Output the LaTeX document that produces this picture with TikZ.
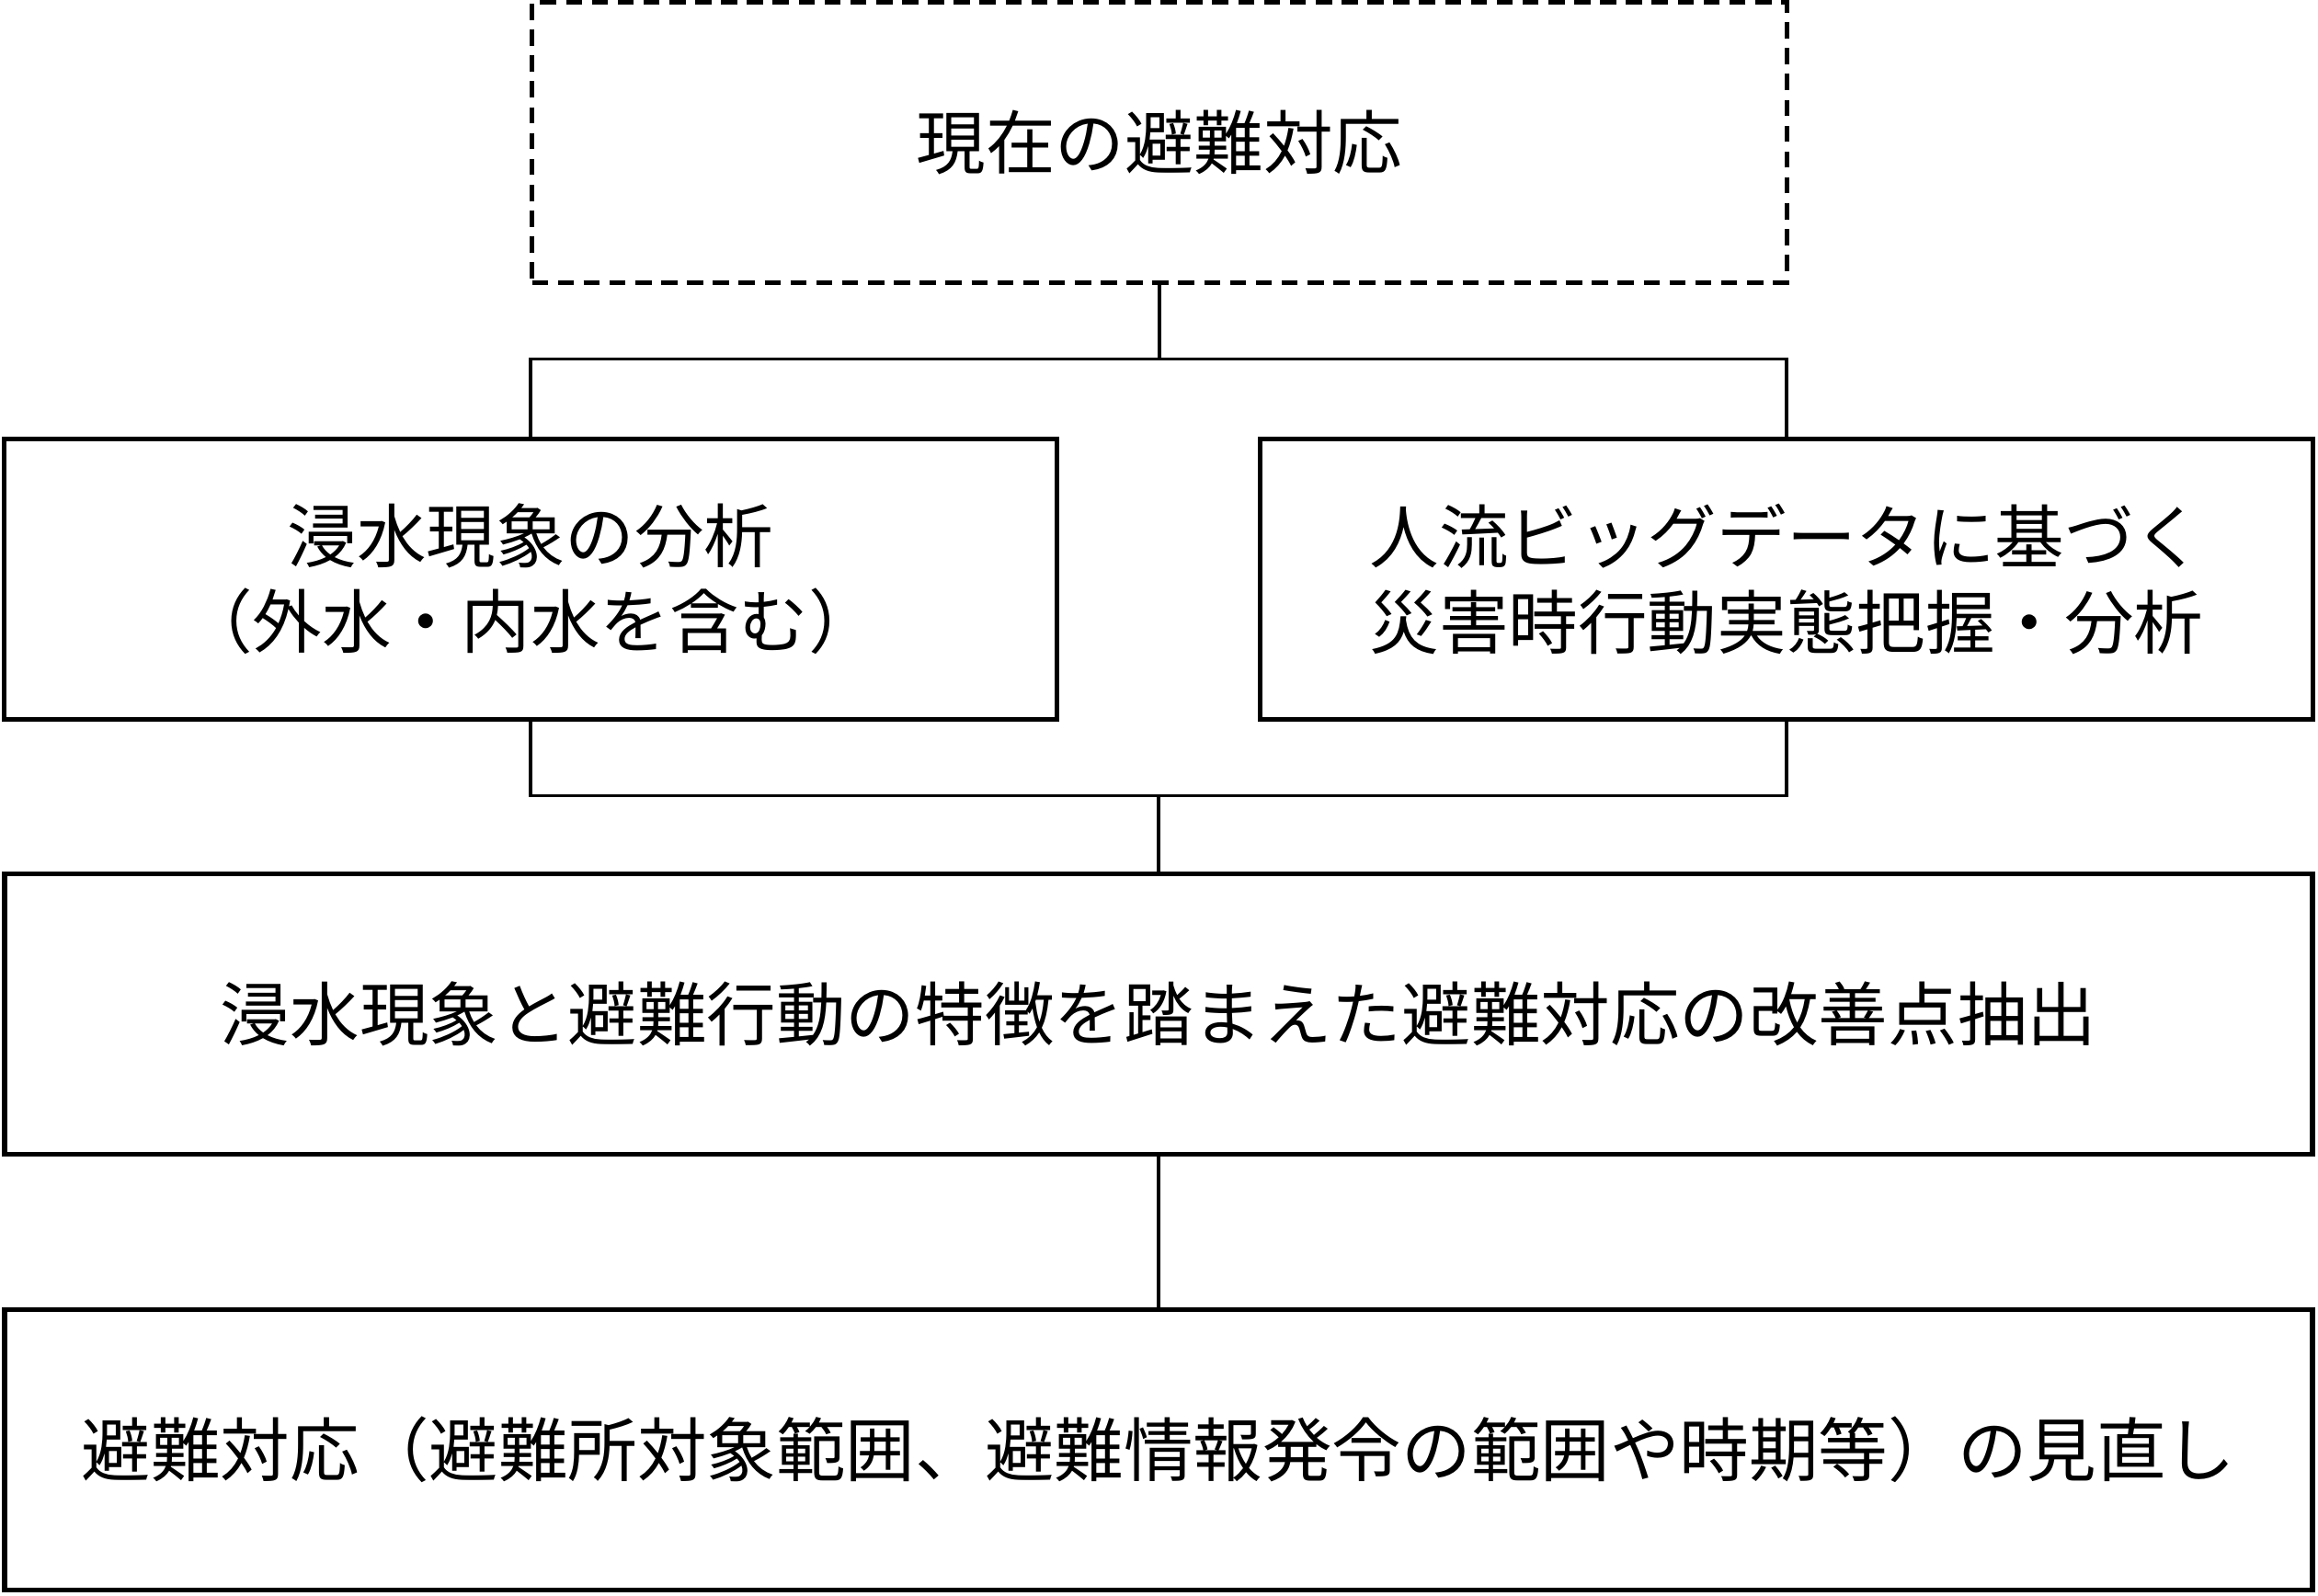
\documentclass[tikz,border=0pt]{standalone}
\usepackage{fontspec}
\setmainfont{Noto Sans CJK JP}
\usetikzlibrary{positioning}

\begin{document}
\begin{tikzpicture}[
  every node/.style={draw, align=center, line width=1.6pt, font=\fontsize{21.5}{26.5}\selectfont, inner sep=0pt},
  every path/.style={line width=0.9pt}
]
\useasboundingbox (0,0) rectangle (25.21,-17.35);

\node (current) [dash pattern=on 5pt off 3pt, minimum width=13.65cm, minimum height=3.05cm] at (12.61,-1.55) {現在の避難対応};
\node (flood) [minimum width=11.45cm, minimum height=3.05cm] at (5.77,-6.30) {浸水現象の分析\\（外水・内水を含む）};
\node (people) [minimum width=11.45cm, minimum height=3.05cm] at (19.43,-6.30) {人流ビッグデータに基づく\\災害時行動実態把握・分析};
\node (improve) [minimum width=25.1cm, minimum height=3.05cm] at (12.60,-11.03) {浸水現象と避難行動の特徴を踏まえた避難対応の改善点抽出};
\node (review) [minimum width=25.1cm, minimum height=3.05cm] at (12.60,-15.77) {避難対応（避難所対象範囲、避難情報発令の範囲や時期等）の見直し};

\draw (current.south) -- ++(0,-0.80) coordinate (split);
\draw (flood.north) |- (split) -| (people.north);
\draw (flood.south) -- ++(0,-0.80) -| (people.south);
\draw (improve.north) -- ++(0,0.82);
\draw (improve.south) -- (review.north);

\end{tikzpicture}
\end{document}
